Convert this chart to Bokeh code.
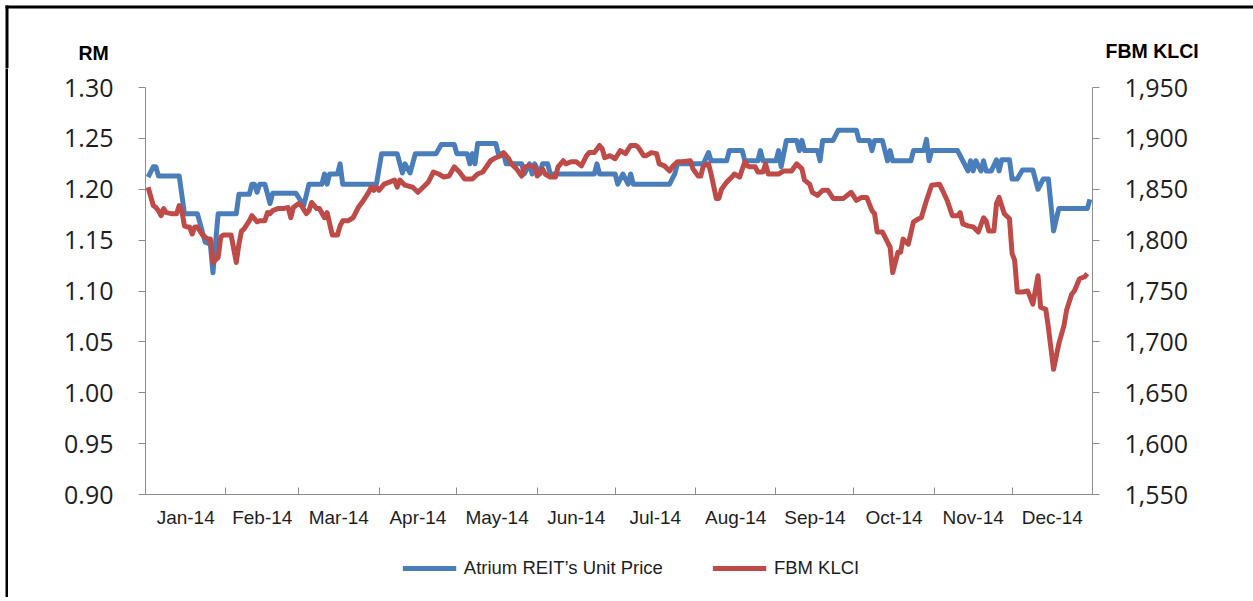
import pandas as pd
from bokeh.plotting import figure
from bokeh.layouts import column, row
from bokeh.models import (LinearAxis, Range1d, FixedTicker, NumeralTickFormatter,
                          Legend, LegendItem)
from bokeh.core.properties import value
from bokeh.embed import file_html
from bokeh.resources import INLINE

# ---------------- data ----------------
blue_dates = [
    "2014-01-02", "2014-01-04", "2014-01-05", "2014-01-06", "2014-01-14", "2014-01-16",
    "2014-01-21", "2014-01-24", "2014-01-26", "2014-01-27", "2014-01-29", "2014-02-05",
    "2014-02-06", "2014-02-10", "2014-02-11", "2014-02-12", "2014-02-13", "2014-02-14",
    "2014-02-16", "2014-02-18", "2014-02-19", "2014-02-28", "2014-03-03", "2014-03-05",
    "2014-03-10", "2014-03-11", "2014-03-12", "2014-03-13", "2014-03-16", "2014-03-17",
    "2014-03-18", "2014-03-31", "2014-04-02", "2014-04-08", "2014-04-10", "2014-04-11",
    "2014-04-13", "2014-04-15", "2014-04-23", "2014-04-25", "2014-04-30", "2014-05-01",
    "2014-05-05", "2014-05-06", "2014-05-07", "2014-05-08", "2014-05-09", "2014-05-16",
    "2014-05-17", "2014-05-19", "2014-05-20", "2014-05-26", "2014-05-27", "2014-05-29",
    "2014-05-30", "2014-05-31", "2014-06-02", "2014-06-03", "2014-06-05", "2014-06-06",
    "2014-06-23", "2014-06-24", "2014-06-25", "2014-07-01", "2014-07-02", "2014-07-04",
    "2014-07-06", "2014-07-07", "2014-07-08", "2014-07-22", "2014-07-24", "2014-07-25",
    "2014-08-04", "2014-08-06", "2014-08-07", "2014-08-13", "2014-08-14", "2014-08-19",
    "2014-08-20", "2014-08-25", "2014-08-26", "2014-08-27", "2014-09-01", "2014-09-02",
    "2014-09-03", "2014-09-05", "2014-09-09", "2014-09-10", "2014-09-11", "2014-09-12",
    "2014-09-17", "2014-09-18", "2014-09-19", "2014-09-23", "2014-09-25", "2014-10-02",
    "2014-10-03", "2014-10-07", "2014-10-08", "2014-10-09", "2014-10-12", "2014-10-14",
    "2014-10-15", "2014-10-16", "2014-10-23", "2014-10-24", "2014-10-28", "2014-10-29",
    "2014-10-30", "2014-10-31", "2014-11-10", "2014-11-12", "2014-11-14", "2014-11-15",
    "2014-11-16", "2014-11-17", "2014-11-19", "2014-11-20", "2014-11-21", "2014-11-23",
    "2014-11-25", "2014-11-26", "2014-11-27", "2014-11-30", "2014-12-01", "2014-12-03",
    "2014-12-05", "2014-12-09", "2014-12-11", "2014-12-13", "2014-12-15", "2014-12-17",
    "2014-12-19", "2014-12-30", "2014-12-31",
]
blue_price = [
    1.212, 1.222, 1.222, 1.213, 1.213, 1.176,
    1.176, 1.148, 1.146, 1.118, 1.176, 1.176,
    1.195, 1.195, 1.205, 1.205, 1.197, 1.205,
    1.205, 1.186, 1.196, 1.196, 1.184, 1.205,
    1.205, 1.215, 1.205, 1.215, 1.215, 1.225,
    1.205, 1.205, 1.235, 1.235, 1.216, 1.225,
    1.216, 1.235, 1.235, 1.244, 1.244, 1.235,
    1.235, 1.225, 1.235, 1.225, 1.245, 1.245,
    1.235, 1.235, 1.225, 1.225, 1.215, 1.225,
    1.215, 1.225, 1.215, 1.225, 1.225, 1.215,
    1.215, 1.225, 1.215, 1.215, 1.205, 1.215,
    1.205, 1.215, 1.205, 1.205, 1.215, 1.225,
    1.225, 1.236, 1.228, 1.228, 1.238, 1.238,
    1.228, 1.228, 1.238, 1.228, 1.228, 1.238,
    1.222, 1.248, 1.248, 1.238, 1.248, 1.238,
    1.238, 1.228, 1.248, 1.248, 1.258, 1.258,
    1.248, 1.248, 1.238, 1.248, 1.248, 1.228,
    1.238, 1.228, 1.228, 1.238, 1.238, 1.249,
    1.228, 1.238, 1.238, 1.228, 1.218, 1.228,
    1.218, 1.228, 1.218, 1.228, 1.218, 1.218,
    1.229, 1.218, 1.229, 1.229, 1.210, 1.210,
    1.219, 1.219, 1.200, 1.210, 1.210, 1.159,
    1.181, 1.181, 1.190,
]

red_dates = [
    "2014-01-02", "2014-01-04", "2014-01-05", "2014-01-06", "2014-01-07", "2014-01-08",
    "2014-01-09", "2014-01-11", "2014-01-13", "2014-01-14", "2014-01-15", "2014-01-16",
    "2014-01-17", "2014-01-18", "2014-01-19", "2014-01-20", "2014-01-21", "2014-01-23",
    "2014-01-25", "2014-01-26", "2014-01-27", "2014-01-29", "2014-01-30", "2014-01-31",
    "2014-02-03", "2014-02-05", "2014-02-06", "2014-02-07", "2014-02-08", "2014-02-10",
    "2014-02-11", "2014-02-13", "2014-02-14", "2014-02-16", "2014-02-17", "2014-02-18",
    "2014-02-19", "2014-02-21", "2014-02-23", "2014-02-25", "2014-02-26", "2014-02-27",
    "2014-03-01", "2014-03-02", "2014-03-04", "2014-03-05", "2014-03-06", "2014-03-08",
    "2014-03-09", "2014-03-11", "2014-03-12", "2014-03-13", "2014-03-14", "2014-03-16",
    "2014-03-17", "2014-03-18", "2014-03-20", "2014-03-22", "2014-03-24", "2014-03-26",
    "2014-03-28", "2014-03-29", "2014-03-30", "2014-03-31", "2014-04-01", "2014-04-03",
    "2014-04-07", "2014-04-08", "2014-04-09", "2014-04-11", "2014-04-14", "2014-04-16",
    "2014-04-18", "2014-04-20", "2014-04-22", "2014-04-24", "2014-04-26", "2014-04-28",
    "2014-04-30", "2014-05-02", "2014-05-04", "2014-05-07", "2014-05-09", "2014-05-11",
    "2014-05-14", "2014-05-16", "2014-05-18", "2014-05-19", "2014-05-21", "2014-05-22",
    "2014-05-24", "2014-05-26", "2014-05-27", "2014-05-29", "2014-05-31", "2014-06-01",
    "2014-06-03", "2014-06-04", "2014-06-06", "2014-06-08", "2014-06-09", "2014-06-11",
    "2014-06-12", "2014-06-14", "2014-06-16", "2014-06-18", "2014-06-20", "2014-06-21",
    "2014-06-23", "2014-06-25", "2014-06-26", "2014-06-27", "2014-06-29", "2014-07-01",
    "2014-07-03", "2014-07-05", "2014-07-07", "2014-07-09", "2014-07-10", "2014-07-12",
    "2014-07-13", "2014-07-15", "2014-07-17", "2014-07-18", "2014-07-20", "2014-07-22",
    "2014-07-23", "2014-07-25", "2014-07-27", "2014-07-30", "2014-07-31", "2014-08-02",
    "2014-08-03", "2014-08-04", "2014-08-06", "2014-08-07", "2014-08-09", "2014-08-10",
    "2014-08-11", "2014-08-13", "2014-08-15", "2014-08-16", "2014-08-18", "2014-08-20",
    "2014-08-21", "2014-08-22", "2014-08-24", "2014-08-25", "2014-08-27", "2014-08-28",
    "2014-08-29", "2014-09-02", "2014-09-04", "2014-09-07", "2014-09-09", "2014-09-11",
    "2014-09-12", "2014-09-14", "2014-09-15", "2014-09-17", "2014-09-19", "2014-09-21",
    "2014-09-23", "2014-09-27", "2014-09-29", "2014-09-30", "2014-10-02", "2014-10-04",
    "2014-10-06", "2014-10-08", "2014-10-09", "2014-10-10", "2014-10-12", "2014-10-14",
    "2014-10-15", "2014-10-16", "2014-10-18", "2014-10-19", "2014-10-20", "2014-10-22",
    "2014-10-24", "2014-10-26", "2014-10-27", "2014-10-29", "2014-10-31", "2014-11-03",
    "2014-11-04", "2014-11-06", "2014-11-08", "2014-11-10", "2014-11-11", "2014-11-12",
    "2014-11-14", "2014-11-16", "2014-11-18", "2014-11-20", "2014-11-21", "2014-11-22",
    "2014-11-24", "2014-11-25", "2014-11-26", "2014-11-28", "2014-11-30", "2014-12-01",
    "2014-12-02", "2014-12-03", "2014-12-05", "2014-12-07", "2014-12-08", "2014-12-09",
    "2014-12-11", "2014-12-12", "2014-12-14", "2014-12-15", "2014-12-17", "2014-12-19",
    "2014-12-21", "2014-12-22", "2014-12-24", "2014-12-25", "2014-12-27", "2014-12-29",
    "2014-12-30",
]
red_klci = [
    1852, 1834, 1832, 1829, 1824, 1831,
    1827, 1826, 1826, 1834, 1829, 1814,
    1813, 1813, 1806, 1813, 1813, 1805,
    1801, 1801, 1778, 1783, 1803, 1805,
    1805, 1778, 1796, 1809, 1811, 1819,
    1824, 1818, 1819, 1819, 1827, 1826,
    1829, 1831, 1831, 1832, 1822, 1832,
    1836, 1834, 1826, 1829, 1837, 1831,
    1831, 1822, 1827, 1816, 1805, 1805,
    1814, 1819, 1819, 1822, 1832, 1839,
    1847, 1852, 1849, 1852, 1849, 1855,
    1859, 1852, 1859, 1854, 1852, 1847,
    1852, 1857, 1867, 1865, 1862, 1863,
    1872, 1867, 1860, 1860, 1865, 1867,
    1878, 1881, 1883, 1886, 1880, 1875,
    1870, 1863, 1872, 1873, 1872, 1863,
    1870, 1865, 1862, 1862, 1872, 1878,
    1875, 1877, 1877, 1873, 1883, 1886,
    1886, 1893, 1890, 1881, 1883, 1880,
    1888, 1885, 1893, 1893, 1891, 1883,
    1883, 1886, 1885, 1875, 1873, 1868,
    1872, 1877, 1877, 1878, 1870, 1863,
    1863, 1873, 1875, 1865, 1841, 1841,
    1850, 1857, 1862, 1865, 1862, 1877,
    1873, 1872, 1872, 1867, 1867, 1875,
    1865, 1865, 1868, 1868, 1875, 1870,
    1859, 1855, 1847, 1844, 1849, 1849,
    1841, 1841, 1845, 1847, 1839, 1842,
    1842, 1829, 1826, 1808, 1808, 1798,
    1793, 1768, 1788, 1788, 1801, 1796,
    1818, 1821, 1822, 1839, 1854, 1855,
    1850, 1839, 1824, 1824, 1827, 1816,
    1814, 1813, 1808, 1822, 1819, 1809,
    1809, 1836, 1842, 1826, 1821, 1787,
    1780, 1749, 1749, 1750, 1744, 1737,
    1765, 1734, 1732, 1714, 1673, 1698,
    1716, 1731, 1747, 1750, 1762, 1764,
    1767,
]

month_labels = ["Jan-14", "Feb-14", "Mar-14", "Apr-14", "May-14", "Jun-14",
                "Jul-14", "Aug-14", "Sep-14", "Oct-14", "Nov-14", "Dec-14"]
price_ticks = [0.90, 0.95, 1.00, 1.05, 1.10, 1.15, 1.20, 1.25, 1.30]
klci_ticks = [1550, 1600, 1650, 1700, 1750, 1800, 1850, 1900, 1950]
series_names = ["Atrium REIT\u2019s Unit Price", "FBM KLCI"]
axis_titles = ["RM", "FBM KLCI"]

# ---------------- helpers ----------------
def to_ms(ts):
    return int(pd.Timestamp(ts).value // 10**6)

month_starts = pd.date_range("2014-01-01", "2015-01-01", freq="MS")
start_ms = [to_ms(t) for t in month_starts]
mid_ms = [(a + b) // 2 for a, b in zip(start_ms[:-1], start_ms[1:])]

blue_x = pd.to_datetime(blue_dates)
red_x = pd.to_datetime(red_dates)

BLUE = "#4A7EBB"
RED = "#BE4B48"
AXIS = "#8C8C8C"
TXT = "#1e1e1e"
LABFONT = "Liberation Sans"
TICKFONT = "Open Sans"
LW = 5

PAGE_W = 1253
HEAD_H = 68
BODY_W = 1245       # width right of the left frame strip
STRIP_W = 8
MAIN_H = 471
FOOT_H = 58


def blank(width, height, xr, yr):
    f = figure(width=width, height=height, min_border=0, output_backend="svg",
               toolbar_location=None, x_axis_location=None, y_axis_location=None,
               x_range=xr, y_range=yr)
    f.outline_line_color = None
    f.xgrid.visible = False
    f.ygrid.visible = False
    f.frame_align = False
    return f


# header: black frame lines (top and left) + the two axis titles
header = blank(PAGE_W, HEAD_H, Range1d(0, PAGE_W), Range1d(0, HEAD_H))
header.quad(left=[5, 5], right=[PAGE_W + 5, 8], bottom=[HEAD_H - 8, -5],
            top=[HEAD_H - 5, HEAD_H - 5], fill_color="black", line_color=None)
header.text(x=[78], y=[16], text=[axis_titles[0]], text_font=value(LABFONT),
            text_font_style="bold", text_font_size="19.5px", text_color="#000000",
            text_baseline="alphabetic", text_align="left")
header.text(x=[1105], y=[18], text=[axis_titles[1]], text_font=value(LABFONT),
            text_font_style="bold", text_font_size="19.5px", text_color="#000000",
            text_baseline="alphabetic", text_align="left")

# left frame strip
strip = blank(STRIP_W, MAIN_H + FOOT_H, Range1d(0, STRIP_W), Range1d(0, 1))
strip.quad(left=[5], right=[8], bottom=[-0.1], top=[1.1], fill_color="black", line_color=None)

# main chart
p = figure(width=BODY_W, height=MAIN_H,
           min_border_left=137, min_border_right=BODY_W - 137 - 947,
           min_border_top=19, min_border_bottom=MAIN_H - 19 - 407,
           x_range=Range1d(start_ms[0], start_ms[-1]),
           y_range=Range1d(price_ticks[0], price_ticks[-1]),
           output_backend="svg", toolbar_location=None, x_axis_location=None,
           y_axis_location=None)
p.outline_line_color = None
p.xgrid.visible = False
p.ygrid.visible = False
p.frame_align = False
p.extra_y_ranges = {"klci": Range1d(klci_ticks[0], klci_ticks[-1])}

xaxis = LinearAxis(ticker=FixedTicker(ticks=mid_ms, minor_ticks=start_ms))
xaxis.major_label_overrides = {m: lab for m, lab in zip(mid_ms, month_labels)}
xaxis.major_tick_in = 0
xaxis.major_tick_out = 0
xaxis.minor_tick_in = 7
xaxis.minor_tick_out = 0
xaxis.minor_tick_line_color = AXIS
xaxis.axis_line_color = AXIS
xaxis.major_label_standoff = 12
xaxis.major_label_text_font = LABFONT
xaxis.major_label_text_font_size = "19px"
xaxis.major_label_text_color = TXT
p.add_layout(xaxis, "below")

lax = LinearAxis(ticker=FixedTicker(ticks=price_ticks, minor_ticks=[]),
                 formatter=NumeralTickFormatter(format="0.00"))
rax = LinearAxis(y_range_name="klci", ticker=FixedTicker(ticks=klci_ticks, minor_ticks=[]),
                 formatter=NumeralTickFormatter(format="0,0"))
for ax in (lax, rax):
    ax.axis_line_color = AXIS
    ax.major_tick_line_color = AXIS
    ax.major_tick_in = 0
    ax.major_tick_out = 7
    ax.minor_tick_line_color = None
    ax.major_label_standoff = 25
    ax.major_label_text_font = TICKFONT
    ax.major_label_text_font_size = "25px"
    ax.major_label_text_color = TXT
p.add_layout(lax, "left")
p.add_layout(rax, "right")

p.line(blue_x, blue_price, line_color=BLUE, line_width=LW, line_join="round")
p.line(red_x, red_klci, y_range_name="klci", line_color=RED, line_width=LW,
       line_join="round")

# footer with the legend; its key renderers use the same data but fall outside
# this small panel's ranges, so only the legend keys are visible
footer = blank(BODY_W, FOOT_H, Range1d(0, 1), Range1d(0, 1))
k_blue = footer.line(blue_x, blue_price, line_color=BLUE, line_width=LW)
k_red = footer.line(red_x, red_klci, line_color=RED, line_width=LW)
legend = Legend(items=[LegendItem(label=series_names[0], renderers=[k_blue]),
                       LegendItem(label=series_names[1], renderers=[k_red])],
                orientation="horizontal", location="center",
                spacing=49, glyph_width=54, glyph_height=20, label_standoff=8,
                padding=0, margin=0, border_line_alpha=0, background_fill_alpha=0,
                label_text_font=LABFONT, label_text_font_size="18.5px",
                label_text_color=TXT)
footer.add_layout(legend, "center")

layout = column(header, row(strip, column(p, footer)))

open("out.html", "w").write(file_html(layout, INLINE))
